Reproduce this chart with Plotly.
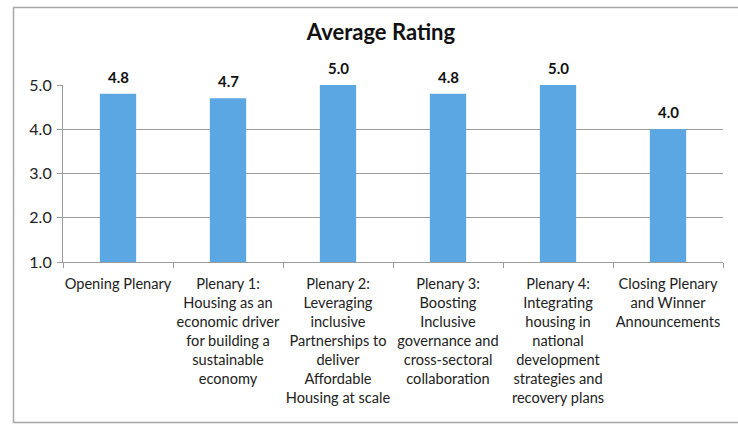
import plotly.graph_objects as go

# Session ratings
sessions = [
    "Opening Plenary",
    "Plenary 1:<br>Housing as an<br>economic driver<br>for building a<br>sustainable<br>economy",
    "Plenary 2:<br>Leveraging<br>inclusive<br>Partnerships to<br>deliver<br>Affordable<br>Housing at scale",
    "Plenary 3:<br>Boosting<br>Inclusive<br>governance and<br>cross-sectoral<br>collaboration",
    "Plenary 4:<br>Integrating<br>housing in<br>national<br>development<br>strategies and<br>recovery plans",
    "Closing Plenary<br>and Winner<br>Announcements",
]
ratings = [4.8, 4.7, 5.0, 4.8, 5.0, 4.0]
y_ticks = [1.0, 2.0, 3.0, 4.0, 5.0]

W, H = 738, 425
FONT = "Lato"
GRID = "#9c9c9c"

fig = go.Figure(
    go.Bar(
        x=sessions,
        y=ratings,
        base=0,
        width=0.33,
        marker=dict(color="#5aa7e4", line=dict(width=0)),
        hoverinfo="x+y",
    )
)

# value labels above each bar
for s, v in zip(sessions, ratings):
    fig.add_annotation(
        x=s, y=v, xref="x", yref="y",
        text=f"<b>{v:.1f}</b>",
        showarrow=False, yanchor="bottom", yshift=6,
        font=dict(family=FONT, size=15, color="#111111"),
    )

# chart frame (pixel box converted to paper coordinates)
ml, mr, mt, mb = 63, 15, 85, 163
pw, ph = W - ml - mr, H - mt - mb
def px_x(p):
    return (p - ml) / pw
def px_y(p):
    return (H - mb - p) / ph

fig.add_shape(
    type="rect", xref="paper", yref="paper",
    x0=px_x(13.5), x1=px_x(745), y0=px_y(422.5), y1=px_y(7.5),
    line=dict(color="#a8a8a8", width=1.5), fillcolor="rgba(0,0,0,0)",
    layer="below",
)

fig.update_layout(
    width=W, height=H,
    margin=dict(l=ml, r=mr, t=mt, b=mb),
    paper_bgcolor="white", plot_bgcolor="white",
    showlegend=False,
    title=dict(
        text="<b>Average Rating</b>",
        x=381 / W, xanchor="center",
        y=1 - 32 / H, yanchor="middle",
        font=dict(family=FONT, size=22, color="#111111"),
    ),
)

fig.update_yaxes(
    range=[1, 5],
    tickvals=y_ticks,
    ticktext=[f"{v:.1f}" for v in y_ticks],
    tickfont=dict(family=FONT, size=16, color="#222222"),
    showgrid=True, gridcolor=GRID, gridwidth=1.2,
    showline=True, linecolor=GRID, linewidth=1.2,
    ticks="outside", ticklen=5, tickcolor=GRID,
    ticklabelstandoff=2,
    zeroline=False,
)

fig.update_xaxes(
    tickfont=dict(family=FONT, size=14.6, color="#222222"),
    showline=True, linecolor=GRID, linewidth=1.2,
    ticks="outside", tickson="boundaries", ticklen=5, tickcolor=GRID,
    ticklabelstandoff=8,
    tickangle=0,
    showgrid=False,
)

fig.write_html("out.html")
